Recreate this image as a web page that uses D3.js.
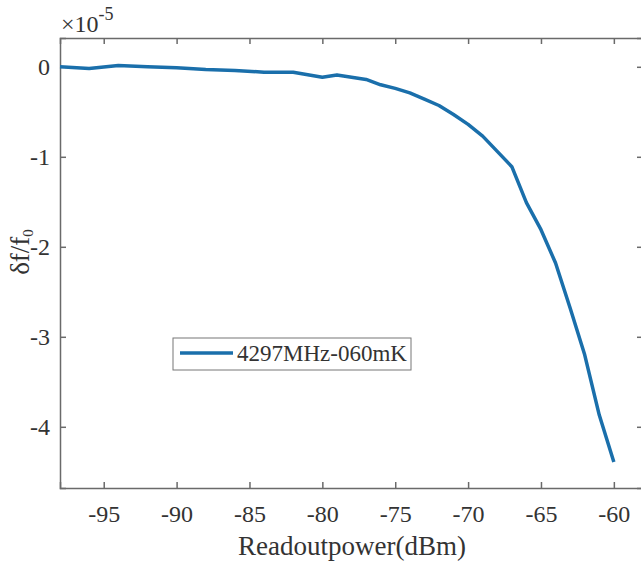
<!DOCTYPE html>
<html>
<head>
<meta charset="utf-8">
<script src="https://cdn.jsdelivr.net/npm/d3@7"></script>
<style>
  body { margin: 0; background: #fff; }
</style>
</head>
<body>
<div id="chart"></div>
<script>
// Readout power (dBm) and fractional frequency shift (x 1e-5)
var power = [-98, -96, -94, -92, -90, -88, -86, -84, -82, -80, -79, -78, -77, -76, -75, -74, -73, -72, -71, -70, -69, -68, -67, -66, -65, -64, -63, -62, -61, -60];
var shift = [0.0, -0.02, 0.015, 0.0, -0.01, -0.03, -0.04, -0.06, -0.06, -0.115, -0.09, -0.115, -0.14, -0.2, -0.24, -0.29, -0.36, -0.43, -0.53, -0.64, -0.77, -0.94, -1.11, -1.51, -1.81, -2.18, -2.68, -3.2, -3.87, -4.39];
var xTicks = [-95, -90, -85, -80, -75, -70, -65, -60];
var yTicks = [0, -1, -2, -3, -4];
var seriesName = "4297MHz-060mK";

var width = 641, height = 563;
var margin = { top: 38, right: -2, bottom: 75, left: 60 };
var serif = "'Liberation Serif', 'Times New Roman', serif";

var svg = d3.select("#chart").append("svg")
    .attr("width", width)
    .attr("height", height);

var x = d3.scaleLinear().domain([-98, -58]).range([margin.left, width - margin.right]);
var y = d3.scaleLinear().domain([-4.68, 0.32]).range([height - margin.bottom, margin.top]);

var axisColor = "#6a6a6a";
var plain = function (d) { return String(d); };

// bottom axis
var gx = svg.append("g")
    .attr("transform", "translate(0," + y.range()[0] + ")")
    .call(d3.axisBottom(x).tickValues(xTicks).tickSize(-6).tickFormat(plain));
gx.selectAll("text").style("font-size", "24px").attr("y", 34).attr("dy", 0);

// top axis
var gxt = svg.append("g")
    .attr("transform", "translate(0," + y.range()[1] + ")")
    .call(d3.axisTop(x).tickValues(xTicks).tickSize(-6).tickFormat(""));

// left axis
var gy = svg.append("g")
    .attr("transform", "translate(" + margin.left + ",0)")
    .call(d3.axisLeft(y).tickValues(yTicks).tickSize(-6).tickPadding(10).tickFormat(plain));
gy.selectAll("text").style("font-size", "24px");

// right axis
var gyr = svg.append("g")
    .attr("transform", "translate(" + x.range()[1] + ",0)")
    .call(d3.axisRight(y).tickValues(yTicks).tickSize(-6).tickFormat(""));

[gx, gxt, gy, gyr].forEach(function (g) {
  g.attr("font-family", serif);
  g.select(".domain").attr("stroke", axisColor).attr("stroke-width", 1.5);
  g.selectAll(".tick line").attr("stroke", axisColor).attr("stroke-width", 1.5);
  g.selectAll("text").attr("fill", "#333");
});

// data line
var line = d3.line()
    .x(function (d, i) { return x(power[i]); })
    .y(function (d) { return y(d); });

svg.append("path")
    .datum(shift)
    .attr("fill", "none")
    .attr("stroke", "#1a6fab")
    .attr("stroke-width", 3.5)
    .attr("stroke-linejoin", "round")
    .attr("d", line);

// exponent label
var ex = svg.append("text").attr("x", 61).attr("y", 32)
    .attr("font-family", serif).attr("fill", "#333").style("font-size", "24px");
ex.append("tspan").text("\u00d710");
ex.append("tspan").attr("dy", -12).style("font-size", "18px").text("-5");

// axis labels
svg.append("text")
    .attr("x", 352).attr("y", 555)
    .attr("text-anchor", "middle")
    .attr("font-family", serif).attr("fill", "#333")
    .style("font-size", "27px")
    .text("Readoutpower(dBm)");

var yl = svg.append("text")
    .attr("transform", "translate(29,252) rotate(-90)")
    .attr("text-anchor", "middle")
    .attr("font-family", serif).attr("fill", "#333")
    .style("font-size", "27px");
yl.append("tspan").text("\u03b4f/f");
yl.append("tspan").attr("dy", 4).style("font-size", "15px").text("0");

// legend
var lg = svg.append("g").attr("transform", "translate(173,338)");
lg.append("rect")
    .attr("width", 238).attr("height", 32)
    .attr("fill", "#fff").attr("stroke", "#777").attr("stroke-width", 1);
lg.append("line")
    .attr("x1", 7).attr("x2", 60).attr("y1", 15).attr("y2", 15)
    .attr("stroke", "#1a6fab").attr("stroke-width", 3.5);
lg.append("text")
    .attr("x", 64).attr("y", 23)
    .attr("font-family", serif).attr("fill", "#333")
    .style("font-size", "23px")
    .text(seriesName);
</script>
</body>
</html>
